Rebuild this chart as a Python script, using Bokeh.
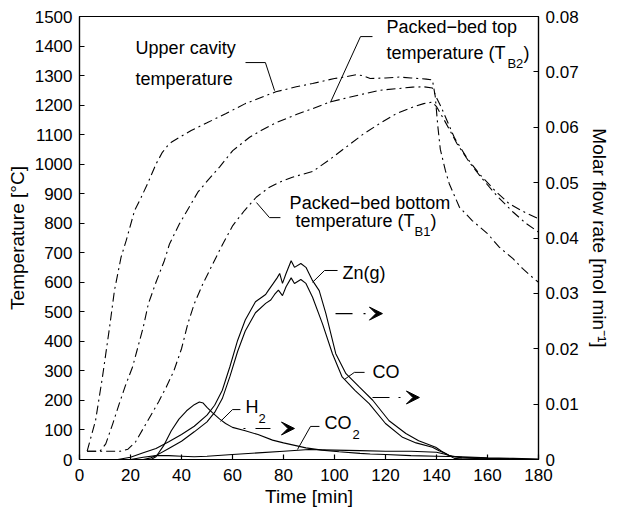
from bokeh.plotting import figure
from bokeh.models import Range1d, LinearAxis, FixedTicker, CustomJSTickFormatter, Arrow, VeeHead
from bokeh.core.properties import value
from bokeh.embed import file_html
from bokeh.resources import INLINE

FONT = "Liberation Sans"

# ---------------- data ----------------
# temperatures [°C] vs time [min]
t_upper = [3, 4, 6.3, 9, 11.8, 13.7, 16.3, 18.3, 21.6, 24.2, 26.7, 30.1, 32.5, 34.5, 36, 39.2, 43.8, 50,
           57.3, 65, 77, 85, 91.4, 100, 104, 108.5, 111, 114, 120, 125.5, 130, 136, 138.4, 139.5, 140.5,
           141.5, 143.5, 145, 149, 154, 160, 164.6, 170, 173.7, 177.6, 180]
T_upper = [28, 60, 132, 279, 448, 572, 685, 741, 843, 888, 934, 1002, 1040, 1062, 1074, 1091, 1114, 1140,
           1171, 1205, 1245, 1262, 1273, 1290, 1295, 1303, 1300, 1290, 1292, 1295, 1292, 1288, 1285, 1230, 1130,
           1050, 978, 934, 854, 809, 765, 719, 680, 647, 617, 600]

t_top = [3, 8, 10.3, 13, 15.6, 18, 20.8, 25, 27, 30, 33.3, 35.3, 39.2, 43.8, 46.4, 50.3, 54.9, 60.1, 66.7,
         71.2, 77, 85, 91.4, 98, 105, 117.6, 125, 130.6, 135, 138.4, 140, 142, 147, 152, 157, 163, 168.5,
         175, 180]
T_top = [28, 28, 53, 120, 189, 250, 313, 448, 527, 600, 674, 730, 798, 866, 905, 945, 990, 1046, 1091,
         1114, 1140, 1168, 1188, 1210, 1225, 1250, 1256, 1261, 1262, 1258, 1225, 1190, 1090, 1020, 965, 910, 866,
         835, 815]

t_bottom = [3, 16, 19, 22, 25, 28, 31, 34, 37, 40, 42.5, 45, 48.4, 52.3, 56.2, 60.1, 64.7, 69.3, 74.5, 78.4,
            83.5, 91.4, 98, 104.6, 111, 117.6, 124, 130.6, 135, 138.4, 140, 143, 148, 153, 158, 164, 170, 175, 180]
T_bottom = [28, 28, 35, 60, 105, 150, 195, 245, 300, 375, 460, 527, 595, 663, 730, 792, 843, 888, 922, 939,
            956, 975, 1015, 1058, 1100, 1137, 1170, 1193, 1205, 1210, 1195, 1150, 1070, 1005, 950, 890, 838, 800, 770]

# molar flow rates [mol/min] vs time [min]
t_zn = [0, 15, 20, 25, 30, 35, 40, 45, 50, 53, 56, 59, 62, 65, 69, 73, 74, 76, 77.5, 78.5, 79.6, 81, 83,
        84.3, 86.8, 88.8, 91.4, 94, 96.6, 100.5, 104.5, 109.7, 115, 121.4, 128, 133, 139.7, 142, 145, 150, 160, 180]
zn = [0, 0, 0.0004, 0.0012, 0.002, 0.0032, 0.0045, 0.006, 0.008, 0.0098, 0.0125, 0.0168, 0.0215, 0.0252,
      0.0285, 0.0298, 0.0305, 0.0318, 0.0328, 0.0336, 0.0318, 0.0336, 0.0359, 0.0347, 0.0354, 0.0347, 0.0323,
      0.0305, 0.0264, 0.0191, 0.0155, 0.0131, 0.0107, 0.007, 0.0047, 0.0034, 0.0022, 0.0015, 0.0007, 0.0003,
      0.0001, 0]

t_co = [0, 25, 28, 30, 35, 40, 45, 50, 53, 56, 59, 62, 65, 69, 73, 75, 76.5, 78, 79.6, 81, 83, 84.3, 86.8,
        88.8, 91.4, 95.3, 99.2, 103, 108, 113.6, 120, 126.7, 132, 138.4, 141, 143.6, 147, 150, 160, 180]
co = [0, 0, 0.0003, 0.0007, 0.002, 0.0033, 0.005, 0.0068, 0.0085, 0.011, 0.015, 0.0195, 0.0232, 0.0265,
      0.0282, 0.0288, 0.0298, 0.0306, 0.0296, 0.0312, 0.0328, 0.0318, 0.0325, 0.0318, 0.0293, 0.0245, 0.0191,
      0.0149, 0.0125, 0.0101, 0.0065, 0.004, 0.003, 0.0022, 0.0016, 0.0011, 0.0002, 0.0001, 0, 0]

t_h2 = [0, 28, 30, 33, 36, 39, 42, 45, 47, 48.5, 50, 52, 55, 57.3, 60, 65, 70, 75.7, 80, 88.8, 95, 101.8,
        110, 114, 120, 130, 140, 150, 160, 170, 180]
h2 = [0, 0, 0.0005, 0.0025, 0.0052, 0.0073, 0.0088, 0.0099, 0.0104, 0.0102, 0.0094, 0.0085, 0.0073, 0.0065,
      0.0058, 0.0052, 0.0045, 0.0035, 0.003, 0.0021, 0.0017, 0.0014, 0.0011, 0.001, 0.0009, 0.0007, 0.0006,
      0.0005, 0.0003, 0.0002, 0.0001]

t_co2 = [0, 20, 25, 30, 35, 40, 45, 50, 60, 70, 80, 90, 100, 110, 120, 130, 140, 143, 146, 150, 160, 170, 180]
co2 = [0, 0, 0.0004, 0.0007, 0.0007, 0.0006, 0.0005, 0.0006, 0.0009, 0.0012, 0.0015, 0.0018, 0.0017,
       0.0016, 0.0015, 0.0015, 0.0013, 0.001, 0.0006, 0.0004, 0.0002, 0.0001, 0]

x_ticks = list(range(0, 181, 20))
T_ticks = list(range(0, 1501, 100))
flow_ticks = [0, 0.01, 0.02, 0.03, 0.04, 0.05, 0.06, 0.07, 0.08]

# ---------------- figure ----------------
p = figure(frame_width=459, frame_height=443, output_backend="svg", toolbar_location=None,
           x_range=Range1d(0, 180), y_range=Range1d(0, 1500),
           min_border_left=79, min_border_right=71, min_border_top=16, min_border_bottom=45,
           background_fill_color="white", border_fill_color="white")
p.extra_y_ranges = {"flow": Range1d(0, 0.08)}
p.xgrid.visible = False
p.ygrid.visible = False
p.outline_line_color = "black"
p.outline_line_width = 1.2


def style_axis(ax, label_standoff, axis_standoff):
    ax.major_tick_in = 5
    ax.major_tick_out = 0
    ax.minor_tick_in = 0
    ax.minor_tick_out = 0
    ax.axis_line_color = "black"
    ax.axis_line_width = 1.2
    ax.major_tick_line_color = "black"
    ax.major_tick_line_width = 1.2
    ax.major_label_text_font = FONT
    ax.major_label_text_font_size = "17px"
    ax.major_label_text_color = "black"
    ax.major_label_standoff = label_standoff
    ax.axis_label_text_font = FONT
    ax.axis_label_text_font_size = "19px"
    ax.axis_label_text_font_style = "normal"
    ax.axis_label_text_color = "black"
    ax.axis_label_standoff = axis_standoff


p.xaxis.ticker = FixedTicker(ticks=x_ticks)
p.xaxis.axis_label = "Time [min]"
style_axis(p.xaxis[0], 9, 2)
p.yaxis.ticker = FixedTicker(ticks=T_ticks)
p.yaxis.axis_label = "Temperature [°C]"
style_axis(p.yaxis[0], 7, 4)

ry = LinearAxis(y_range_name="flow", ticker=FixedTicker(ticks=flow_ticks),
                formatter=CustomJSTickFormatter(code="return tick == 0 ? '0' : tick.toFixed(2);"),
                axis_label="Molar flow rate [mol min⁻¹]")
style_axis(ry, 7, 7)
p.add_layout(ry, "right")

# temperature curves
DD = "9 4 2 4"
p.line(t_upper, T_upper, line_color="black", line_width=1.1, line_dash=DD)
p.line(t_top, T_top, line_color="black", line_width=1.1, line_dash=DD)
p.line(t_bottom, T_bottom, line_color="black", line_width=1.1, line_dash=DD)

# flow curves
for tt, vv in [(t_zn, zn), (t_co, co), (t_h2, h2), (t_co2, co2)]:
    p.line(tt, vv, y_range_name="flow", line_color="black", line_width=1.1)

# ---------------- annotations ----------------
def txt(x, y, s, size="18px"):
    p.text(x=[x], y=[y], text=[s], text_font=value(FONT), text_font_size=size,
           text_baseline="middle", text_align="left", text_color="black")


def leader(xs, ys):
    p.line(xs, ys, line_color="black", line_width=1)


txt(22.0, 1392, "Upper cavity")
txt(22.0, 1290, "temperature")
leader([65.1, 72.9, 76.5], [1344, 1344, 1249])

txt(120.4, 1463, "Packed−bed top")
txt(120.4, 1375, "temperature (T")
txt(167.8, 1341, "B2", "13px")
txt(174.1, 1375, ")")
leader([114.9, 110.2, 98.4], [1432, 1432, 1209])

txt(82.4, 867, "Packed−bed bottom")
txt(84.7, 806, "temperature (T")
txt(131.4, 772, "B1", "13px")
txt(137.6, 806, ")")
leader([69.4, 74.5, 78.8], [870, 819, 819])

txt(103.1, 630, "Zn(g)")
leader([101.2, 96.1, 91.4], [640, 640, 600])

txt(114.9, 295, "CO")
leader([111.8, 107.8, 103.9], [295, 295, 271])

txt(65.1, 179, "H")
txt(70.2, 139, "2", "13px")
leader([63.1, 60.0, 55.3], [169, 169, 129])

txt(96.1, 122, "CO")
txt(107.1, 85, "2", "13px")
leader([94.1, 90.6, 85.5], [112, 112, 34])


def arrow(x0, x1, y, dash):
    p.add_layout(Arrow(end=VeeHead(size=13, fill_color="black", line_color="black", line_width=1),
                       x_start=x0, y_start=y, x_end=x1, y_end=y,
                       line_color="black", line_width=1.2, line_dash=dash))


arrow(100.4, 118.8, 494, "17 11 2 60")
arrow(114.9, 133.3, 210, "17 9 2 60")
arrow(64.3, 84.3, 105, "2 10 15 60")

open("out.html", "w").write(file_html(p, INLINE))
